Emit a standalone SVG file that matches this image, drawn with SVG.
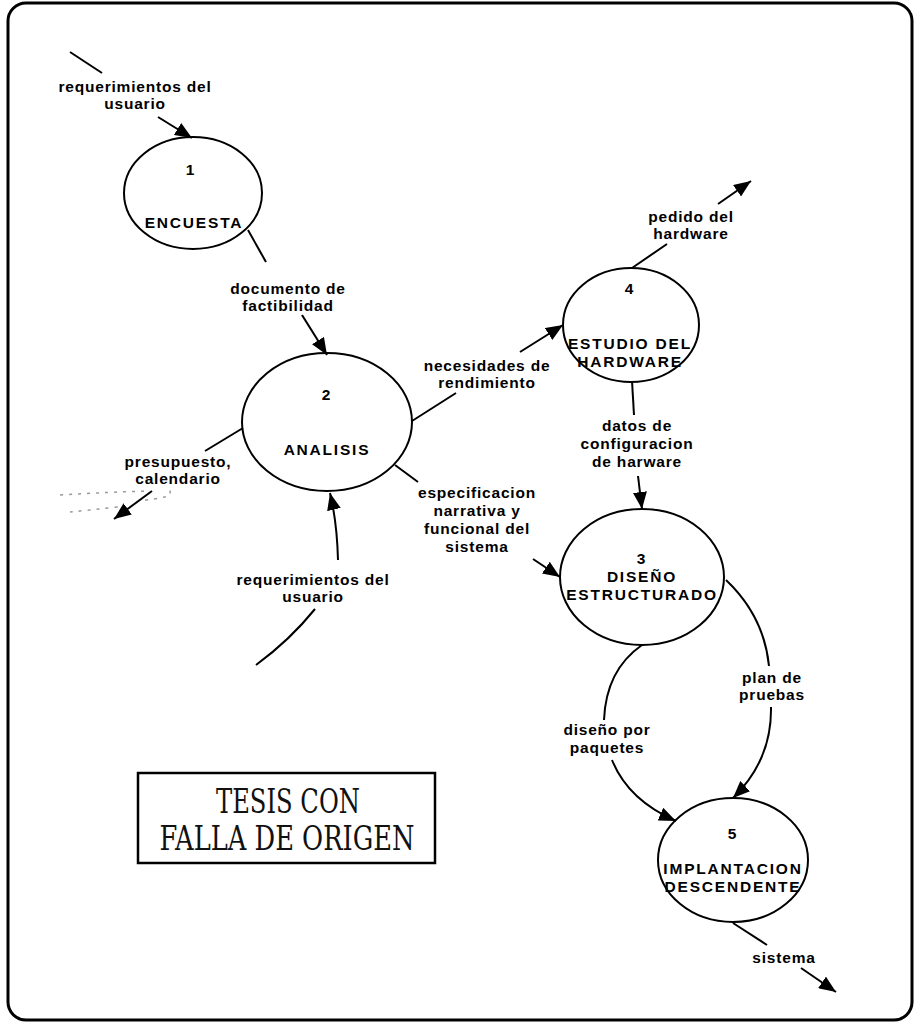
<svg xmlns="http://www.w3.org/2000/svg" width="914" height="1023" viewBox="0 0 914 1023">
  <style>
    .frame { fill: none; stroke: #000; stroke-width: 3; }
    .proc { fill: none; stroke: #000; stroke-width: 2; }
    .flow { fill: none; stroke: #000; stroke-width: 2; }
    .lbl { font-family: "Liberation Sans", Arial, sans-serif; font-weight: bold; font-size: 15.5px; letter-spacing: 0.8px; fill: #000; text-anchor: middle; }
    .ttl { font-family: "Liberation Sans", Arial, sans-serif; font-weight: bold; font-size: 15.5px; letter-spacing: 1.8px; fill: #000; text-anchor: middle; }
    .stamp { font-family: "DejaVu Serif", "Liberation Serif", serif; font-size: 33px; fill: #111; text-anchor: middle; }
    .smudge { fill: none; stroke: #999; stroke-width: 1.5; stroke-dasharray: 3 6; }
  </style>
  <defs>
    <marker id="arrow" markerUnits="userSpaceOnUse" markerWidth="19" markerHeight="14" refX="17" refY="7" orient="auto">
      <path d="M0,0 L17,7 L0,14 Z" fill="#000"/>
    </marker>
  </defs>

  <rect width="914" height="1023" fill="#fff"/>
  <rect class="frame" x="8" y="3" width="904" height="1017" rx="18"/>

  <!-- data flows -->
  <g id="connectors">
    <!-- user requirements into 1 -->
    <line class="flow" x1="70" y1="52" x2="102" y2="73"/>
    <line class="flow" x1="158" y1="117" x2="192" y2="138" marker-end="url(#arrow)"/>
    <text class="lbl" x="135" y="92">requerimientos del</text>
    <text class="lbl" x="135" y="109">usuario</text>

    <!-- 1 -> 2 -->
    <line class="flow" x1="248" y1="230" x2="266" y2="262"/>
    <line class="flow" x1="302" y1="315" x2="327" y2="355" marker-end="url(#arrow)"/>
    <text class="lbl" x="288" y="294">documento de</text>
    <text class="lbl" x="288" y="311">factibilidad</text>

    <!-- 2 -> out: presupuesto -->
    <line class="flow" x1="243" y1="428" x2="205" y2="451"/>
    <line class="flow" x1="152" y1="491" x2="114" y2="519" marker-end="url(#arrow)"/>
    <text class="lbl" x="178" y="467">presupuesto,</text>
    <text class="lbl" x="178" y="484">calendario</text>
    <path class="smudge" d="M60,495 Q110,492 150,491 M70,512 Q90,510 118,507 M145,500 Q165,498 170,495 Q171,490 167,487"/>

    <!-- user requirements into 2 (bottom) -->
    <path class="flow" d="M256,665 Q290,640 315,609"/>
    <path class="flow" d="M338,560 Q337,522 330,493" marker-end="url(#arrow)"/>
    <text class="lbl" x="313" y="585">requerimientos del</text>
    <text class="lbl" x="313" y="602">usuario</text>

    <!-- 2 -> 4 -->
    <line class="flow" x1="412" y1="421" x2="456" y2="393"/>
    <line class="flow" x1="520" y1="352" x2="563" y2="325" marker-end="url(#arrow)"/>
    <text class="lbl" x="487" y="371">necesidades de</text>
    <text class="lbl" x="487" y="388">rendimiento</text>

    <!-- 4 -> out: pedido -->
    <line class="flow" x1="632" y1="268" x2="667" y2="244"/>
    <line class="flow" x1="718" y1="204" x2="751" y2="181" marker-end="url(#arrow)"/>
    <text class="lbl" x="691" y="222">pedido del</text>
    <text class="lbl" x="691" y="239">hardware</text>

    <!-- 4 -> 3 -->
    <line class="flow" x1="632" y1="381" x2="634" y2="415"/>
    <line class="flow" x1="638" y1="476" x2="642" y2="509" marker-end="url(#arrow)"/>
    <text class="lbl" x="637" y="431">datos de</text>
    <text class="lbl" x="637" y="449">configuracion</text>
    <text class="lbl" x="637" y="467">de harware</text>

    <!-- 2 -> 3 -->
    <line class="flow" x1="395" y1="465" x2="418" y2="482"/>
    <line class="flow" x1="533" y1="559" x2="560" y2="577" marker-end="url(#arrow)"/>
    <text class="lbl" x="477" y="498">especificacion</text>
    <text class="lbl" x="477" y="516">narrativa y</text>
    <text class="lbl" x="477" y="534">funcional del</text>
    <text class="lbl" x="477" y="552">sistema</text>

    <!-- 3 -> 5: diseño por paquetes -->
    <path class="flow" d="M642,645 Q606,670 604,720"/>
    <path class="flow" d="M612,760 Q628,800 676,821" marker-end="url(#arrow)"/>
    <text class="lbl" x="607" y="735">diseño por</text>
    <text class="lbl" x="607" y="753">paquetes</text>

    <!-- 3 -> 5: plan de pruebas -->
    <path class="flow" d="M726,580 Q764,616 769,666"/>
    <path class="flow" d="M771,707 Q772,760 733,798" marker-end="url(#arrow)"/>
    <text class="lbl" x="772" y="683">plan de</text>
    <text class="lbl" x="772" y="700">pruebas</text>

    <!-- 5 -> out: sistema -->
    <line class="flow" x1="733" y1="923" x2="767" y2="945"/>
    <line class="flow" x1="801" y1="968" x2="836" y2="992" marker-end="url(#arrow)"/>
    <text class="lbl" x="784" y="963">sistema</text>
  </g>

  <g id="p1">
    <ellipse class="proc" cx="193" cy="193" rx="69" ry="56"/>
    <text class="ttl" x="191" y="175">1</text>
    <text class="ttl" x="194" y="228">ENCUESTA</text>
  </g>

  <g id="p2">
    <ellipse class="proc" cx="327" cy="422" rx="85" ry="69"/>
    <text class="ttl" x="327" y="400">2</text>
    <text class="ttl" x="327" y="455">ANALISIS</text>
  </g>

  <g id="p4">
    <ellipse class="proc" cx="631" cy="325" rx="68" ry="57"/>
    <text class="ttl" x="630" y="294">4</text>
    <text class="ttl" x="630" y="349">ESTUDIO DEL</text>
    <text class="ttl" x="630" y="367">HARDWARE</text>
  </g>

  <g id="p3">
    <ellipse class="proc" cx="642" cy="577" rx="82" ry="68"/>
    <text class="ttl" x="642" y="564">3</text>
    <text class="ttl" x="642" y="582">DISEÑO</text>
    <text class="ttl" x="642" y="600">ESTRUCTURADO</text>
  </g>

  <g id="p5">
    <ellipse class="proc" cx="733" cy="860" rx="75" ry="62"/>
    <text class="ttl" x="733" y="839">5</text>
    <text class="ttl" x="733" y="874">IMPLANTACION</text>
    <text class="ttl" x="733" y="892">DESCENDENTE</text>
  </g>

  <g id="stamp">
    <rect x="138" y="773" width="297" height="90" fill="none" stroke="#000" stroke-width="2.5"/>
    <text class="stamp" x="288" y="813" textLength="144" lengthAdjust="spacingAndGlyphs">TESIS CON</text>
    <text class="stamp" x="287" y="850" textLength="255" lengthAdjust="spacingAndGlyphs">FALLA DE ORIGEN</text>
  </g>
</svg>
